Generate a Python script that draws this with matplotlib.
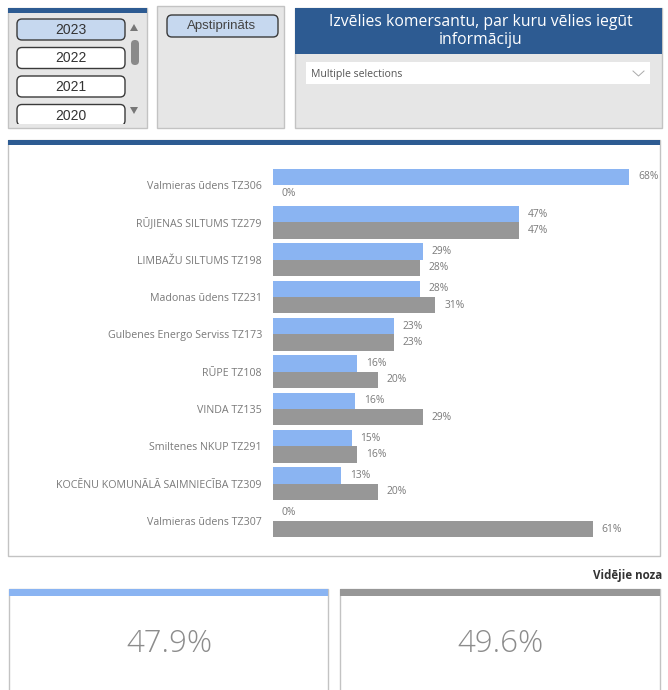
import matplotlib
matplotlib.use("Agg")
import matplotlib.pyplot as plt
from matplotlib.patches import Rectangle, FancyBboxPatch, Polygon

plt.rcParams['font.family'] = ['Open Sans', 'DejaVu Sans']

# dati
kategorijas = ["Valmieras ūdens TZ306", "RŪJIENAS SILTUMS TZ279", "LIMBAŽU SILTUMS TZ198",
               "Madonas ūdens TZ231", "Gulbenes Energo Serviss TZ173", "RŪPE TZ108",
               "VINDA TZ135", "Smiltenes NKUP TZ291", "KOCĒNU KOMUNĀLĀ SAIMNIECĪBA TZ309",
               "Valmieras ūdens TZ307"]
zilie = [68, 47, 28.6, 28, 23, 16, 15.6, 15, 13, 0]
pelekie = [0, 47, 28, 31, 23, 20, 28.6, 16, 20, 61]
gadi = ["2023", "2022", "2021", "2020"]
statuss = "Apstiprināts"
virsraksts = "Izvēlies komersantu, par kuru vēlies iegūt\ninformāciju"
izvele = "Multiple selections"
kartes_nosaukums = "Vidējie noza"
videjais_zils = "47.9%"
videjais_pelek = "49.6%"

ZILS = "#8ab4f2"
PELEKS = "#979797"
TUMSI_ZILS = "#2d5b92"
FONS = "#e6e6e6"
RAMIS = "#c3c3c3"
TEKSTS = "#7a7a7a"

W, H = 668, 690
fig = plt.figure(figsize=(W / 100, H / 100), dpi=100)
bg = fig.add_axes([0, 0, 1, 1])
bg.set_xlim(0, W)
bg.set_ylim(H, 0)
bg.axis('off')


def taisnst(x0, y0, x1, y1, **kw):
    bg.add_patch(Rectangle((x0, y0), x1 - x0, y1 - y0, **kw))


def poga(x0, y0, x1, y1, fc):
    bg.add_patch(FancyBboxPatch((x0 + 3, y0 + 3), x1 - x0 - 6, y1 - y0 - 6,
                                boxstyle="round,pad=3,rounding_size=5",
                                fc=fc, ec="#3a3a3a", lw=1.0))


# gadu filtrs
taisnst(8, 8, 147, 128, fc=FONS, ec=RAMIS, lw=1)
taisnst(8, 8, 147, 13, fc=TUMSI_ZILS, ec='none')
for i, g in enumerate(gadi):
    y0 = 19 + i * 28.5
    poga(17, y0, 125, y0 + 21, "#c6d8ef" if i == 0 else "white")
    bg.text(71, y0 + 11, g, ha='center', va='center', fontsize=10,
            family='Liberation Sans', color="#333333")
taisnst(14, 123.5, 128, 127.4, fc=FONS, ec='none')
bg.add_patch(Polygon([[130, 31], [138, 31], [134, 24]], closed=True, fc="#777777", ec='none'))
bg.add_patch(Polygon([[130, 107], [138, 107], [134, 114]], closed=True, fc="#777777", ec='none'))
bg.add_patch(FancyBboxPatch((131, 40), 8, 25, boxstyle="round,pad=0,rounding_size=4",
                            fc="#8a8a8a", ec='none'))

# statusa filtrs
taisnst(157, 6, 284, 128, fc=FONS, ec=RAMIS, lw=1)
poga(167, 15, 278, 37, "#c6d8ef")
bg.text(222, 26, statuss, ha='center', va='center', fontsize=9.5,
        family='Liberation Sans', color="#444444")

# komersanta izvēle
taisnst(295, 8, 662, 128, fc=FONS, ec=RAMIS, lw=1)
taisnst(295, 8, 662, 54, fc=TUMSI_ZILS, ec='none')
bg.text(481, 31, virsraksts, ha='center', va='center', fontsize=11.3,
        color='white', linespacing=1.1)
taisnst(306, 62, 650, 84, fc='white', ec='none')
bg.text(311, 74, izvele, ha='left', va='center', fontsize=7.6, color="#555555")
bg.plot([633, 638.5, 644], [71, 76, 71], color="#aaaaaa", lw=0.7)

# diagrammas panelis
taisnst(8, 140, 660, 556, fc='white', ec=RAMIS, lw=1)
taisnst(8, 140, 660, 145, fc=TUMSI_ZILS, ec='none')

# kartes
bg.text(593, 575, kartes_nosaukums, ha='left', va='center', fontsize=8.3,
        fontweight='bold', color="#333333")
taisnst(9, 589, 328, 700, fc='white', ec=RAMIS, lw=1)
taisnst(9, 589, 328, 596, fc=ZILS, ec='none')
taisnst(340, 589, 660, 700, fc='white', ec=RAMIS, lw=1)
taisnst(340, 589, 660, 596, fc=PELEKS, ec='none')
bg.text(169, 644, videjais_zils, ha='center', va='center', fontsize=22.5,
        color="#8c8c8c", fontweight='light')
bg.text(500, 644, videjais_pelek, ha='center', va='center', fontsize=22.5,
        color="#8c8c8c", fontweight='light')

# joslu diagramma
y_aug, y_apak = 166.3, 539.7
x_kreisi, x_labi = 273, 652
px_uz_proc = 5.24
ax = fig.add_axes([x_kreisi / W, 1 - y_apak / H, (x_labi - x_kreisi) / W, (y_apak - y_aug) / H])
ax.set_xlim(0, (x_labi - x_kreisi) / px_uz_proc)
ax.set_ylim(len(kategorijas) - 0.5, -0.5)
ax.patch.set_alpha(0)
for s in ax.spines.values():
    s.set_visible(False)

poz = list(range(len(kategorijas)))
h = 0.44
ax.barh([p - h / 2 for p in poz], zilie, height=h, color=ZILS)
ax.barh([p + h / 2 for p in poz], pelekie, height=h, color=PELEKS)
for p, z, g in zip(poz, zilie, pelekie):
    ax.text(z + 1.7, p - h / 2, f"{z:.0f}%", va='center', ha='left', fontsize=7.4, color=TEKSTS)
    ax.text(g + 1.7, p + h / 2, f"{g:.0f}%", va='center', ha='left', fontsize=7.4, color=TEKSTS)

ax.set_xticks([])
ax.set_yticks(poz)
ax.set_yticklabels(kategorijas, fontsize=7.7, color=TEKSTS)
ax.tick_params(axis='y', length=0, pad=8)

fig.savefig("out.png", dpi=100)
